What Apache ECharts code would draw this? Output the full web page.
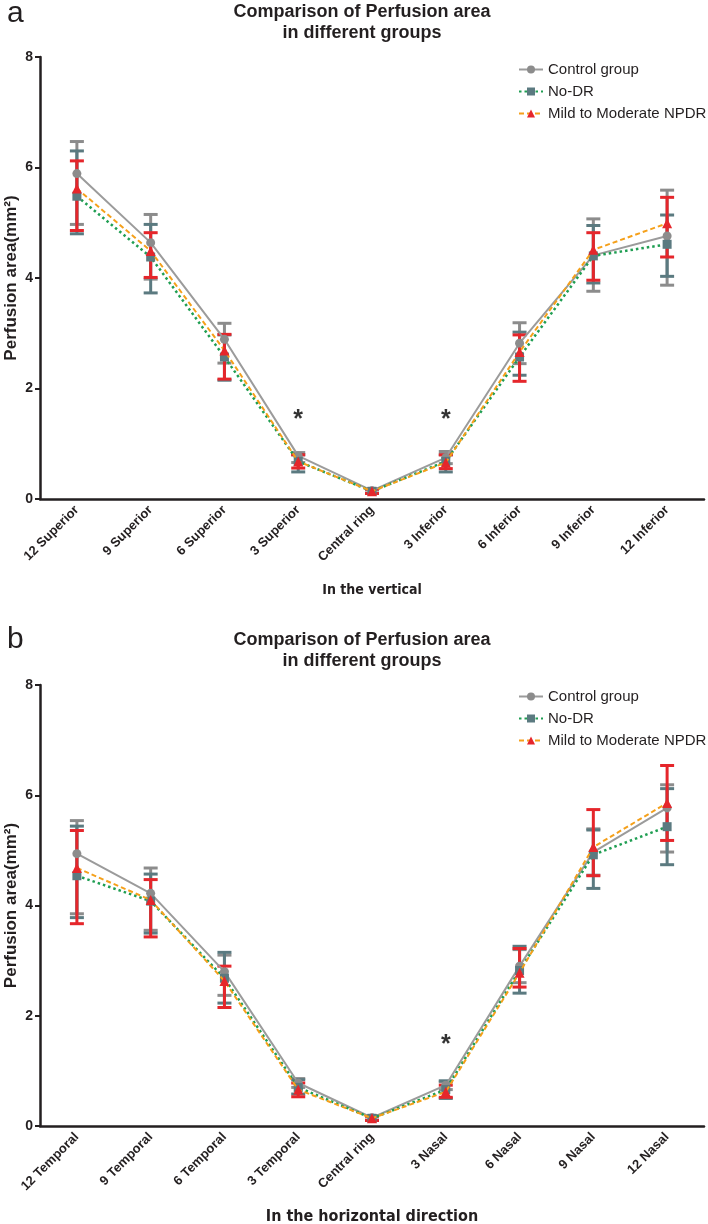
<!DOCTYPE html>
<html>
<head>
<meta charset="utf-8">
<title>Comparison of Perfusion area</title>
<script src="https://cdn.jsdelivr.net/npm/echarts@6.0.0/dist/echarts.min.js"></script>
<style>
  html, body { margin: 0; padding: 0; background: #fff; }
  #main { width: 708px; height: 1224px; }
</style>
</head>
<body>
<div id="main"></div>
<script>
// 类别（上图：垂直方向，下图：水平方向）
var catsV = ['12 Superior', '9 Superior', '6 Superior', '3 Superior', 'Central ring', '3 Inferior', '6 Inferior', '9 Inferior', '12 Inferior'];
var catsH = ['12 Temporal', '9 Temporal', '6 Temporal', '3 Temporal', 'Central ring', '3 Nasal', '6 Nasal', '9 Nasal', '12 Nasal'];
var yTicks = [0, 2, 4, 6, 8];

// a 图 均值与误差线上下端
var ctrlV   = [5.89, 4.64, 2.89, 0.78, 0.15, 0.75, 2.82, 4.41, 4.76];
var ctrlVLo = [4.97, 3.98, 2.46, 0.66, 0.11, 0.64, 2.45, 3.76, 3.87];
var ctrlVHi = [6.47, 5.15, 3.18, 0.84, 0.18, 0.86, 3.19, 5.07, 5.59];
var nodrV   = [5.48, 4.38, 2.57, 0.68, 0.14, 0.68, 2.57, 4.40, 4.61];
var nodrVLo = [4.80, 3.73, 2.15, 0.49, 0.10, 0.49, 2.24, 3.91, 4.03];
var nodrVHi = [6.30, 4.97, 2.97, 0.80, 0.18, 0.80, 3.02, 4.95, 5.14];
var npdrV   = [5.62, 4.49, 2.69, 0.68, 0.14, 0.66, 2.66, 4.51, 4.99];
var npdrVLo = [4.86, 4.01, 2.17, 0.56, 0.10, 0.55, 2.13, 3.96, 4.38];
var npdrVHi = [6.12, 4.82, 2.98, 0.80, 0.18, 0.80, 2.97, 4.82, 5.46];
var starV = [['3 Superior', 1.5], ['3 Inferior', 1.5]];

// b 图
var ctrlH   = [4.94, 4.22, 2.80, 0.78, 0.15, 0.74, 2.90, 4.97, 5.77];
var ctrlHLo = [3.85, 3.55, 2.37, 0.70, 0.11, 0.66, 2.60, 4.55, 4.97];
var ctrlHHi = [5.54, 4.68, 3.10, 0.86, 0.19, 0.80, 3.20, 5.39, 6.19];
var nodrH   = [4.54, 4.08, 2.68, 0.70, 0.14, 0.66, 2.82, 4.92, 5.43];
var nodrHLo = [3.78, 3.50, 2.23, 0.58, 0.10, 0.50, 2.41, 4.31, 4.74];
var nodrHHi = [5.44, 4.57, 3.15, 0.84, 0.18, 0.82, 3.26, 5.37, 6.12];
var npdrH   = [4.68, 4.10, 2.63, 0.66, 0.14, 0.62, 2.78, 5.06, 5.86];
var npdrHLo = [3.67, 3.43, 2.15, 0.53, 0.10, 0.52, 2.52, 4.54, 5.18];
var npdrHHi = [5.36, 4.47, 2.90, 0.78, 0.18, 0.74, 3.22, 5.74, 6.54];
var starH = [['3 Nasal', 1.54]];

var groupNames = ['Control group', 'No-DR', 'Mild to Moderate NPDR'];

var FONT = '"Liberation Sans", Arial, sans-serif';
var NARROW = '"Liberation Sans Narrow", "DejaVu Sans Condensed", "Liberation Sans", sans-serif';
var INK = '#231f20';

var chart = echarts.init(document.getElementById('main'));

// 误差线（竖线 + 上下横帽）
function errorBar(idx, lo, hi, color) {
  return {
    type: 'custom',
    xAxisIndex: idx,
    yAxisIndex: idx,
    z: 2,
    silent: true,
    data: lo.map(function (v, i) { return [i, v, hi[i]]; }),
    encode: { x: 0, y: [1, 2] },
    renderItem: function (params, api) {
      var a = api.coord([api.value(0), api.value(1)]);
      var b = api.coord([api.value(0), api.value(2)]);
      var w = 7;
      var st = { stroke: color, lineWidth: 3 };
      return {
        type: 'group',
        children: [
          { type: 'line', shape: { x1: a[0], y1: a[1], x2: b[0], y2: b[1] }, style: st },
          { type: 'line', shape: { x1: a[0] - w, y1: a[1], x2: a[0] + w, y2: a[1] }, style: st },
          { type: 'line', shape: { x1: b[0] - w, y1: b[1], x2: b[0] + w, y2: b[1] }, style: st }
        ]
      };
    }
  };
}

function groupLines(idx, ctrl, nodr, npdr) {
  return [
    {
      name: groupNames[0], type: 'line', xAxisIndex: idx, yAxisIndex: idx, z: 4,
      data: ctrl, symbol: 'circle', symbolSize: 9,
      itemStyle: { color: '#8c8c8c' },
      lineStyle: { color: '#9b9b9b', width: 2 }
    },
    {
      name: groupNames[1], type: 'line', xAxisIndex: idx, yAxisIndex: idx, z: 4,
      data: nodr, symbol: 'rect', symbolSize: 9,
      itemStyle: { color: '#5b7a80' },
      lineStyle: { color: '#1f9e52', width: 2.5, type: [2.5, 3] }
    },
    {
      name: groupNames[2], type: 'line', xAxisIndex: idx, yAxisIndex: idx, z: 5,
      data: npdr, symbol: 'triangle', symbolSize: 10,
      itemStyle: { color: '#e5262b' },
      lineStyle: { color: '#f5a01a', width: 2, type: [5, 3] }
    }
  ];
}

function stars(idx, data) {
  return {
    type: 'scatter', xAxisIndex: idx, yAxisIndex: idx, z: 6, silent: true,
    data: data, symbolSize: 1, itemStyle: { color: 'transparent' },
    label: { show: true, position: 'inside', offset: [0, 4], formatter: '*', fontSize: 25, fontWeight: 'bold', color: '#000', fontFamily: FONT }
  };
}

function xAxisOf(idx, cats, name, nameSize, gap) {
  return {
    type: 'category', gridIndex: idx, data: cats,
    name: name, nameLocation: 'middle', nameGap: gap, nameMoveOverlap: false,
    nameTextStyle: { fontFamily: NARROW, fontWeight: 'bold', fontSize: nameSize, color: INK },
    axisLine: { lineStyle: { color: INK, width: 2.5 } },
    axisTick: { alignWithLabel: true, length: 6, lineStyle: { color: INK, width: 2 } },
    axisLabel: { rotate: 45, interval: 0, margin: 9, fontFamily: FONT, fontWeight: 'bold', fontSize: 13, color: INK },
    splitLine: { show: false }
  };
}

function yAxisOf(idx) {
  return {
    type: 'value', gridIndex: idx, min: yTicks[0], max: yTicks[yTicks.length - 1], interval: 2,
    name: 'Perfusion area(mm²)', nameLocation: 'middle', nameGap: 20, nameMoveOverlap: false,
    nameTextStyle: { fontFamily: FONT, fontWeight: 'bold', fontSize: 17, color: INK },
    axisLine: { show: true, lineStyle: { color: INK, width: 2.5 } },
    axisTick: { show: true, length: 5, lineStyle: { color: INK, width: 2 } },
    axisLabel: { margin: 7, fontFamily: FONT, fontWeight: 'bold', fontSize: 14, color: INK },
    splitLine: { show: false }
  };
}

function legendOf(idx, top) {
  return {
    data: groupNames, orient: 'vertical', left: 513, top: top,
    itemWidth: 24, itemHeight: 10, itemGap: 7,
    textStyle: { fontFamily: FONT, fontSize: 15, color: INK }
  };
}

function titleOf(top) {
  return {
    text: 'Comparison of Perfusion area\nin different groups',
    left: 357, top: top, textAlign: 'center',
    textStyle: { fontFamily: FONT, fontWeight: 'bold', fontSize: 18, lineHeight: 21, color: INK }
  };
}

var option = {
  backgroundColor: '#fff',
  animation: false,
  title: [
    { text: 'a', left: 2, top: -6, textStyle: { fontFamily: FONT, fontWeight: 'normal', fontSize: 30, color: INK } },
    titleOf(-3),
    { text: 'b', left: 2, top: 620, textStyle: { fontFamily: FONT, fontWeight: 'normal', fontSize: 30, color: INK } },
    titleOf(625)
  ],
  legend: [legendOf(0, 57), legendOf(1, 684)],
  grid: [
    { left: 40, right: 4, top: 57, height: 442, outerBoundsMode: 'none' },
    { left: 40, right: 4, top: 685, height: 441, outerBoundsMode: 'none' }
  ],
  xAxis: [
    xAxisOf(0, catsV, 'In the vertical', 14, 84),
    xAxisOf(1, catsH, 'In the horizontal direction', 16, 83)
  ],
  yAxis: [yAxisOf(0), yAxisOf(1)],
  series: [
    errorBar(0, ctrlVLo, ctrlVHi, '#8c8c8c'),
    errorBar(0, nodrVLo, nodrVHi, '#5b7a80'),
    errorBar(0, npdrVLo, npdrVHi, '#e5262b'),
    errorBar(1, ctrlHLo, ctrlHHi, '#8c8c8c'),
    errorBar(1, nodrHLo, nodrHHi, '#5b7a80'),
    errorBar(1, npdrHLo, npdrHHi, '#e5262b')
  ]
    .concat(groupLines(0, ctrlV, nodrV, npdrV))
    .concat(groupLines(1, ctrlH, nodrH, npdrH))
    .concat([stars(0, starV), stars(1, starH)])
};

chart.setOption(option);
</script>
</body>
</html>
